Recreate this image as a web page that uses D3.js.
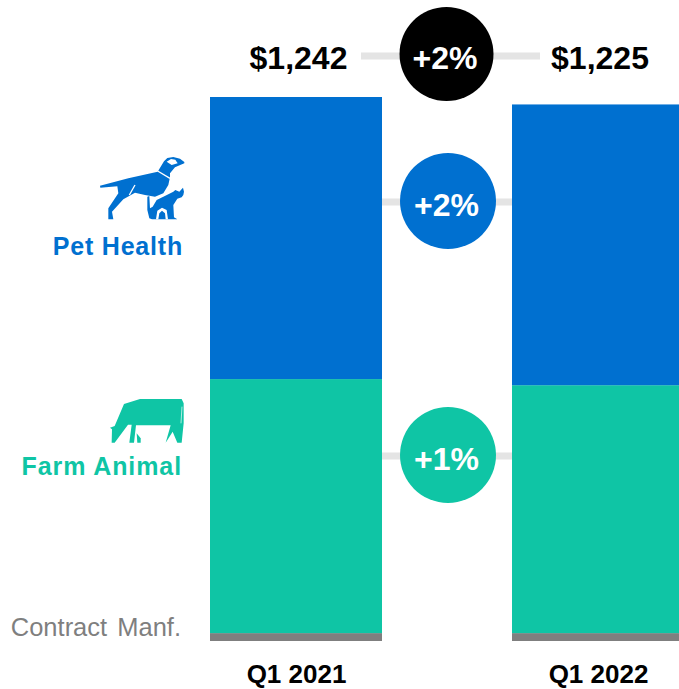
<!DOCTYPE html>
<html><head><meta charset="utf-8">
<script src="https://cdnjs.cloudflare.com/ajax/libs/d3/7.8.5/d3.min.js"></script>
<style>html,body{margin:0;padding:0;background:#fff}svg{display:block}text{font-family:"Liberation Sans",Arial,sans-serif}</style>
</head><body><svg id="c" width="679" height="689"></svg>
<script>
const quarters = ["Q1 2021", "Q1 2022"];
const totals = ["$1,242", "$1,225"];
const segments = ["Contract Manf.", "Farm Animal", "Pet Health"];
const contractManf = [18, 18];
const farmAnimal = [580, 566];
const petHealth = [644, 641];
const growthLabels = ["+2%", "+2%", "+1%"];
const BLUE = "#0070d0", GREEN = "#0fc5a5", GREY = "#7f7f7f", LINE = "#e4e4e4";

const svg = d3.select("#c");
const x = d3.scalePoint().domain(quarters).range([296, 598]);
const y = d3.scaleLinear().domain([0, 1242]).range([641, 97]);
const barW = 172;
const colors = {"Contract Manf.": GREY, "Farm Animal": GREEN, "Pet Health": BLUE};
const rows = quarters.map((q, i) => ({q, "Contract Manf.": contractManf[i], "Farm Animal": farmAnimal[i], "Pet Health": petHealth[i]}));
const stack = d3.stack().keys(segments)(rows);

// connector lines behind bars and circles
const lines = [[361, 540, 56, 7], [382, 512, 202, 7], [382, 512, 456, 7]];
svg.selectAll("rect.conn").data(lines).join("rect").attr("class", "conn")
  .attr("x", d => d[0]).attr("width", d => d[1] - d[0]).attr("y", d => d[2] - d[3] / 2).attr("height", d => d[3]).attr("fill", LINE);

svg.selectAll("g.s").data(stack).join("g").attr("class", "s").attr("fill", d => colors[d.key])
  .selectAll("rect").data(d => d).join("rect")
  .attr("x", d => x(d.data.q) - barW / 2).attr("width", barW)
  .attr("y", d => y(d[1])).attr("height", d => y(d[0]) - y(d[1]));

// growth circles
const circles = [[446.5, 54, 47, "#000"], [448, 201, 48, BLUE], [448, 455, 48, GREEN]];
const labelY = [69, 216, 470];
circles.forEach((c, i) => {
  svg.append("circle").attr("cx", c[0]).attr("cy", c[1]).attr("r", c[2]).attr("fill", c[3]);
  svg.append("text").attr("x", c[0] - 1.5).attr("y", labelY[i]).attr("text-anchor", "middle")
    .attr("font-size", 32).attr("font-weight", 700).attr("fill", "#fff").text(growthLabels[i]);
});

// totals
svg.selectAll("text.tot").data(totals).join("text").attr("class", "tot")
  .attr("x", (d, i) => [298.5, 600][i]).attr("y", 69).attr("text-anchor", "middle")
  .attr("font-size", 32).attr("font-weight", 700).attr("fill", "#000").text(d => d);

// quarter labels
svg.selectAll("text.q").data(quarters).join("text").attr("class", "q")
  .attr("x", d => x(d) + 0.5).attr("y", 683).attr("text-anchor", "middle")
  .attr("font-size", 26).attr("font-weight", 700).attr("fill", "#000").text(d => d);

// segment labels
svg.append("text").attr("x", 183).attr("y", 255).attr("text-anchor", "end").attr("font-size", 25).attr("font-weight", 700).attr("letter-spacing", 0.8).attr("fill", BLUE).text(segments[2]);
svg.append("text").attr("x", 182).attr("y", 475).attr("text-anchor", "end").attr("font-size", 25).attr("font-weight", 700).attr("letter-spacing", 0.9).attr("fill", GREEN).text(segments[1]);
svg.append("text").attr("x", 181).attr("y", 636).attr("text-anchor", "end").attr("font-size", 25.5).attr("fill", GREY).attr("word-spacing", 3).text(segments[0]);

// pet icon (drawn in 3x local units)
const pet = svg.append("g").attr("transform", "translate(90,140) scale(0.3333)");
pet.append("path").attr("fill", BLUE).attr("d", "M283 66L270 56L250 51L232 54L222 64L203 95L115 115L30 137L31 143L82 139L85 160L55 205L55 238L70 238L66 215L100 178L135 158L165 165L195 170L220 160L235 135L240 112L240 100L255 82L283 70Z");
pet.append("path").attr("fill", "none").attr("stroke", "#fff").attr("stroke-width", 4).attr("d", "M203 93L240 115");
pet.append("path").attr("fill", "#fff").attr("d", "M230 65L243 57L256 59L263 70L245 75Z");
pet.append("path").attr("fill", "none").attr("stroke", "#fff").attr("stroke-width", 4).attr("d", "M135 135L118 165");
pet.append("path").attr("fill", BLUE).attr("d", "M250 155L256 150L268 155L279 143L282 155L280 165L275 172L262 176L250 195L252 232L262 238L200 238L186 238L178 235L172 210L172 170L178 168L180 205L188 200L200 180L220 170Z");
pet.append("path").attr("fill", "#fff").attr("d", "M198 238L202 212L216 203L230 210L234 238L227 238L225 220L216 212L208 220L205 238Z");

// cow icon (3x local units)
const cow = svg.append("g").attr("transform", "translate(100,390) scale(0.3333)");
cow.append("path").attr("fill", GREEN).attr("d", "M72 42L120 27L245 27L251 40L251 100L245 158L232 158L218 125L197 158L212 106L108 106L102 158L88 158L95 104L84 104L44 158L35 158L36 118L30 113L44 108Z");
cow.append("path").attr("fill", GREEN).attr("d", "M110 130L122 145L122 158L112 158Z");
cow.append("path").attr("fill", "none").attr("stroke", "#fff").attr("stroke-width", 2).attr("d", "M246 50L243 100");
</script></body></html>
